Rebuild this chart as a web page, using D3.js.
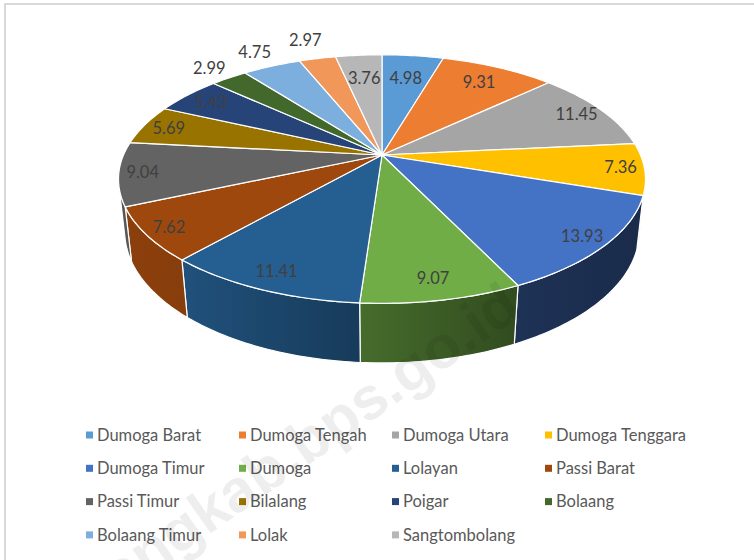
<!DOCTYPE html>
<html>
<head>
<meta charset="utf-8">
<script src="https://cdn.jsdelivr.net/npm/d3@7"></script>
<style>
  body { margin: 0; background: #fff; }
  svg { display: block; font-family: Lato, "Open Sans", sans-serif; }
</style>
</head>
<body>
<div id="chart"></div>
<script>
const categories = ["Dumoga Barat", "Dumoga Tengah", "Dumoga Utara", "Dumoga Tenggara",
    "Dumoga Timur", "Dumoga", "Lolayan", "Passi Barat", "Passi Timur", "Bilalang",
    "Poigar", "Bolaang", "Bolaang Timur", "Lolak", "Sangtombolang"];
const values = [4.98, 9.31, 11.45, 7.36, 13.93, 9.07, 11.41, 7.62, 9.04, 5.69,
    5.43, 2.99, 4.75, 2.97, 3.76];
const colors = ["#5b9bd5", "#ed7d31", "#a5a5a5", "#ffc000", "#4472c4", "#70ad47",
    "#255e91", "#9e480e", "#636363", "#997300", "#264478", "#43682b",
    "#7cafdd", "#f1975a", "#b7b7b7"];
// labels Excel pushed outside the slices
const outsideLabels = ["Bolaang", "Bolaang Timur", "Lolak"];

render();

function render() {
    const width = 754, height = 560;

    const svg = d3.select('#chart').append('svg')
        .attr('width', width)
        .attr('height', height);

    // chart area border (only top and left are visible)
    svg.append('rect')
        .attr('x', 5).attr('y', 4)
        .attr('width', width + 20).attr('height', height + 20)
        .attr('fill', '#fff')
        .attr('stroke', '#d9d9d9')
        .attr('stroke-width', 2);

    const defs = svg.append('defs');

    // 3d disk seen from above with a bit of perspective
    const cx = 382, cy = 155, K = 258.5;
    const sinA = 0.4627, cosA = Math.sqrt(1 - sinA * sinA);
    const persp = 0.2184, thick = 0.231;

    function proj(u, v, w) {
        const Y = v * cosA - w * sinA;
        const Z = v * sinA + w * cosA;
        const den = 1 - persp * Z;
        return [cx + K * u / den, cy - K * Y / den];
    }

    function rim(phi, v, f) {
        f = f || 1;
        return proj(f * Math.cos(phi), v, f * Math.sin(phi));
    }

    function arcPoints(a, b, v) {
        const n = Math.max(2, Math.ceil(Math.abs(b - a) / (Math.PI / 180)));
        const pts = [];
        for (let i = 0; i <= n; i++) {
            pts.push(rim(a + (b - a) * i / n, v));
        }
        return pts;
    }

    const pie = d3.pie().sort(null).value(d => d.value)
        .startAngle(0).endAngle(2 * Math.PI);
    const data = categories.map((c, i) => ({name: c, value: values[i], color: colors[i]}));
    const arcs = pie(data).map(d => {
        d.phi0 = d.startAngle - Math.PI / 2;
        d.phi1 = d.endAngle - Math.PI / 2;
        return d;
    });

    const line = d3.line();

    function shade(c, k) {
        const r = d3.rgb(c);
        return d3.rgb(r.r * k, r.g * k, r.b * k).formatHex();
    }

    function light(phi) {
        const deg = phi * 180 / Math.PI;
        return 0.38 + 0.5 * Math.max(0, Math.min(1, (deg - 55) / 80));
    }

    // side walls, only the part facing the viewer
    const phiMin = Math.asin(persp / cosA);
    const phiMax = Math.PI - phiMin;

    arcs.forEach((d, i) => {
        const s = Math.max(d.phi0, phiMin);
        const e = Math.min(d.phi1, phiMax);
        if (s >= e) return;
        const top = arcPoints(s, e, 0);
        const bottom = arcPoints(e, s, -thick);
        const grad = defs.append('linearGradient')
            .attr('id', 'wall' + i)
            .attr('gradientUnits', 'userSpaceOnUse')
            .attr('x1', rim(e, 0)[0]).attr('y1', 0)
            .attr('x2', rim(s, 0)[0]).attr('y2', 0);
        grad.append('stop').attr('offset', 0).attr('stop-color', shade(d.data.color, light(e)));
        grad.append('stop').attr('offset', 1).attr('stop-color', shade(d.data.color, light(s)));
        svg.append('path')
            .attr('d', line(top.concat(bottom)) + 'Z')
            .attr('fill', 'url(#wall' + i + ')')
            .attr('stroke', '#fff')
            .attr('stroke-width', 1.2)
            .attr('stroke-linejoin', 'round');
    });

    // top faces
    const center = proj(0, 0, 0);
    svg.selectAll('.slice')
        .data(arcs)
        .enter()
        .append('path')
        .attr('class', 'slice')
        .attr('d', d => line([center].concat(arcPoints(d.phi0, d.phi1, 0))) + 'Z')
        .attr('fill', d => d.data.color)
        .attr('stroke', '#fff')
        .attr('stroke-width', 1.2)
        .attr('stroke-linejoin', 'round');

    // data labels
    svg.selectAll('.label')
        .data(arcs)
        .enter()
        .append('text')
        .attr('class', 'label')
        .attr('transform', d => {
            const mid = (d.phi0 + d.phi1) / 2;
            const p = rim(mid, 0);
            const dx = center[0] - p[0], dy = center[1] - p[1];
            const dist = Math.sqrt(dx * dx + dy * dy);
            const off = outsideLabels.indexOf(d.data.name) >= 0 ? -22 : 24;
            return 'translate(' + (p[0] + dx * off / dist) + ',' + (p[1] + dy * off / dist) + ')';
        })
        .attr('text-anchor', 'middle')
        .attr('dy', '0.35em')
        .style('font-size', '16.5px')
        .style('fill', '#404040')
        .text(d => d3.format('.2f')(d.data.value));

    // legend, 4 columns
    const legend = svg.append('g').attr('class', 'legend');
    const item = legend.selectAll('.item')
        .data(data)
        .enter()
        .append('g')
        .attr('class', 'item')
        .attr('transform', (d, i) => 'translate(' + (97 + 153 * (i % 4)) + ',' + (435 + 33.3 * Math.floor(i / 4)) + ')');

    item.append('rect')
        .attr('x', -11).attr('y', -3.5)
        .attr('width', 7).attr('height', 7)
        .attr('fill', d => d.color);

    item.append('text')
        .attr('dy', '0.35em')
        .style('font-size', '16.5px')
        .style('fill', '#595959')
        .text(d => d.name);

    // site watermark
    svg.append('text')
        .attr('transform', 'translate(524,314) rotate(-35)')
        .attr('text-anchor', 'end')
        .style('font-family', '"Liberation Sans", Arial, sans-serif')
        .style('font-weight', 'bold')
        .style('font-size', '60px')
        .style('fill', 'rgba(0,0,0,0.065)')
        .text('bolmongkab.bps.go.id');
}
</script>
</body>
</html>
